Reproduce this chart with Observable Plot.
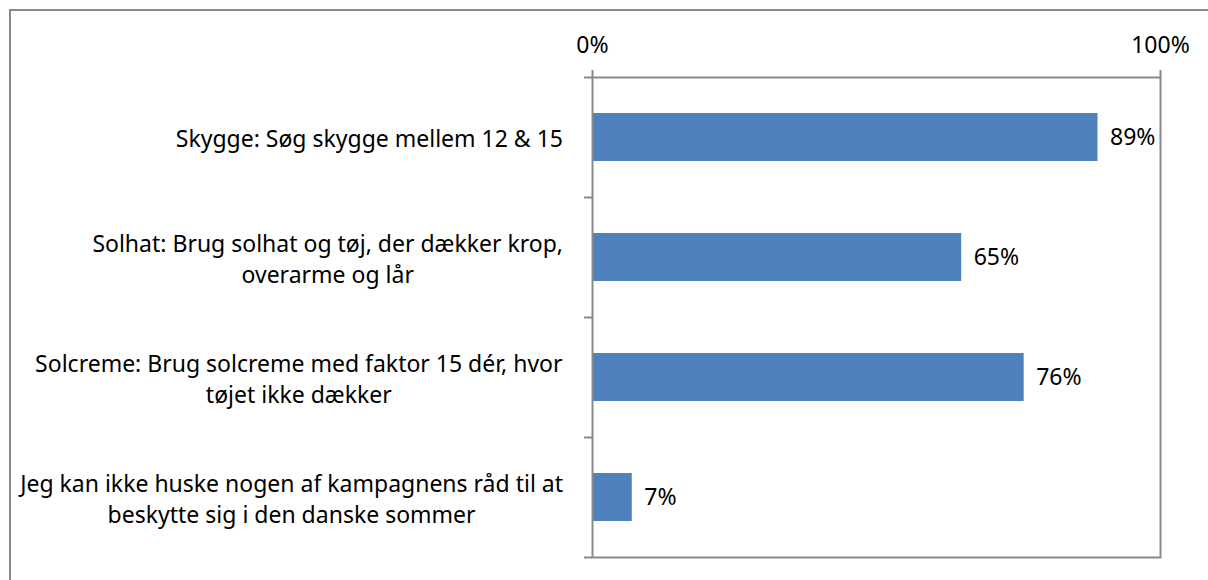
<!DOCTYPE html>
<html>
<head>
<meta charset="utf-8">
<script src="https://cdn.jsdelivr.net/npm/d3@7"></script>
<script src="https://cdn.jsdelivr.net/npm/@observablehq/plot@0.6"></script>
<style>
  html, body { margin: 0; padding: 0; background: #fff; overflow: hidden; width: 1208px; height: 580px; }
  #outer { position: absolute; left: 9px; top: 9px; width: 1300px; height: 700px; border: 2px solid #898989; box-sizing: border-box; }
  #chart { position: absolute; left: 0; top: 0; }
</style>
</head>
<body>
<div id="outer"></div>
<div id="chart"></div>
<script>
// ---- data ----
const categories = [
  "Skygge: Søg skygge mellem 12 & 15",
  "Solhat: Brug solhat og tøj, der dækker krop,\noverarme og lår",
  "Solcreme: Brug solcreme med faktor 15 dér, hvor\ntøjet ikke dækker",
  "Jeg kan ikke huske nogen af kampagnens råd til at\nbeskytte sig i den danske sommer"
];
const values = [0.89, 0.65, 0.76, 0.07];
const xTicks = [0, 1];

const data = categories.map((c, i) => ({category: c, value: values[i], i}));
const boundaries = d3.range(categories.length + 1);

const FONT = "Noto Sans";
const FS = 23;
const GREY = "#898989";
const BAR = "#4F81BD";
const pct = d3.format(".0%");

const plot = Plot.plot({
  width: 1208,
  height: 580,
  marginLeft: 592,
  marginRight: 48,
  marginTop: 77,
  marginBottom: 23,
  style: {fontFamily: FONT, fontSize: FS + "px", color: "black", background: "transparent", overflow: "visible"},
  x: {domain: [0, 1]},
  y: {domain: [0, categories.length], reverse: true},
  marks: [
    Plot.rectX(data, {x1: 0, x2: "value", y1: d => d.i + 0.3, y2: d => d.i + 0.7, fill: BAR}),
    Plot.frame({stroke: GREY, strokeWidth: 2}),
    Plot.axisX({anchor: "top", ticks: xTicks, tickFormat: pct, tickSize: 8, tickPadding: 17,
      stroke: GREY, strokeWidth: 2, fill: "black", fontSize: FS, label: null}),
    Plot.axisY({anchor: "left", ticks: boundaries, tickFormat: () => "", tickSize: 8,
      stroke: GREY, strokeWidth: 2, label: null}),
    Plot.text(data, {x: "value", y: d => d.i + 0.5, text: d => pct(d.value), dx: 12,
      textAnchor: "start", fontSize: FS, fill: "black"}),
    Plot.text(data, {x: 0, y: d => d.i + 0.5, text: "category", textAnchor: "middle",
      lineHeight: 1.35, fontSize: FS, fill: "black"})
  ]
});

document.getElementById("chart").appendChild(plot);

// right-align each (centered, multi-line) category label block next to the axis
const x0 = plot.scale("x").apply(0);
const gap = 29;
const svgLeft = plot.getBoundingClientRect().left;
const keys = new Set(categories.map(c => c.replace(/\s/g, "")));
plot.querySelectorAll("text").forEach(el => {
  if (!keys.has(el.textContent.replace(/\s/g, ""))) return;
  const r = el.getBoundingClientRect();
  const shift = (x0 - gap) - (r.right - svgLeft);
  const t = el.getAttribute("transform") || "";
  el.setAttribute("transform", `translate(${shift},0) ${t}`);
});
</script>
</body>
</html>
